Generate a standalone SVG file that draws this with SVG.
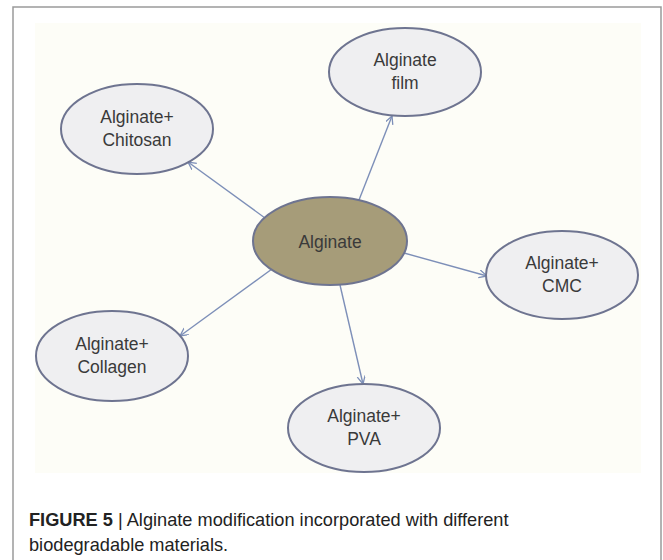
<svg xmlns="http://www.w3.org/2000/svg" width="663" height="560" viewBox="0 0 663 560">
<style>
.node ellipse{fill:#efeff1;stroke:#6e7490;stroke-width:2}
#n-alginate ellipse{fill:#a69c79}
.node text{font-family:"Liberation Sans",Arial,sans-serif;font-size:17.5px;fill:#3a3a3a;text-anchor:middle}
.conn line{stroke:#7d8fb8;stroke-width:1.4;fill:none}
.cap{font-family:"Liberation Sans",Arial,sans-serif;font-size:18.2px;fill:#222}
</style>
<defs>
<marker id="arr" markerWidth="10" markerHeight="10" refX="8" refY="4" orient="auto" markerUnits="userSpaceOnUse">
<path d="M0,0 L8,4 L0,8" fill="none" stroke="#7d8fb8" stroke-width="1.3"/>
</marker>
</defs>
<rect x="0" y="0" width="663" height="560" fill="#ffffff"/>
<path d="M13,562 V7 H661 V562" fill="none" stroke="#9a9a9a" stroke-width="1.5"/>
<rect x="35" y="23" width="606" height="450" fill="#fdfdf7"/>
<g class="conn" id="connectors">
<line x1="359" y1="200" x2="392" y2="116" marker-end="url(#arr)"/>
<line x1="265" y1="218" x2="188" y2="162" marker-end="url(#arr)"/>
<line x1="404" y1="253" x2="487" y2="276" marker-end="url(#arr)"/>
<line x1="272" y1="269" x2="180" y2="336" marker-end="url(#arr)"/>
<line x1="340" y1="285" x2="363" y2="384" marker-end="url(#arr)"/>
</g>
<g class="node" id="n-alginate">
<ellipse cx="330" cy="241" rx="77" ry="44"/>
<text x="330" y="248">Alginate</text>
</g>
<g class="node" id="n-film">
<ellipse cx="405" cy="72" rx="76" ry="44"/>
<text x="405" y="66">Alginate</text>
<text x="405" y="89">film</text>
</g>
<g class="node" id="n-chitosan">
<ellipse cx="137" cy="129" rx="76" ry="45"/>
<text x="137" y="123">Alginate+</text>
<text x="137" y="146">Chitosan</text>
</g>
<g class="node" id="n-cmc">
<ellipse cx="562" cy="275" rx="76" ry="44"/>
<text x="562" y="269">Alginate+</text>
<text x="562" y="292">CMC</text>
</g>
<g class="node" id="n-collagen">
<ellipse cx="112" cy="356" rx="76" ry="45"/>
<text x="112" y="350">Alginate+</text>
<text x="112" y="373">Collagen</text>
</g>
<g class="node" id="n-pva">
<ellipse cx="364" cy="428" rx="76" ry="44"/>
<text x="364" y="422">Alginate+</text>
<text x="364" y="445">PVA</text>
</g>
<text class="cap" x="29" y="526"><tspan font-weight="bold">FIGURE 5</tspan> | Alginate modification incorporated with different</text>
<text class="cap" x="29" y="551">biodegradable materials.</text>
</svg>
